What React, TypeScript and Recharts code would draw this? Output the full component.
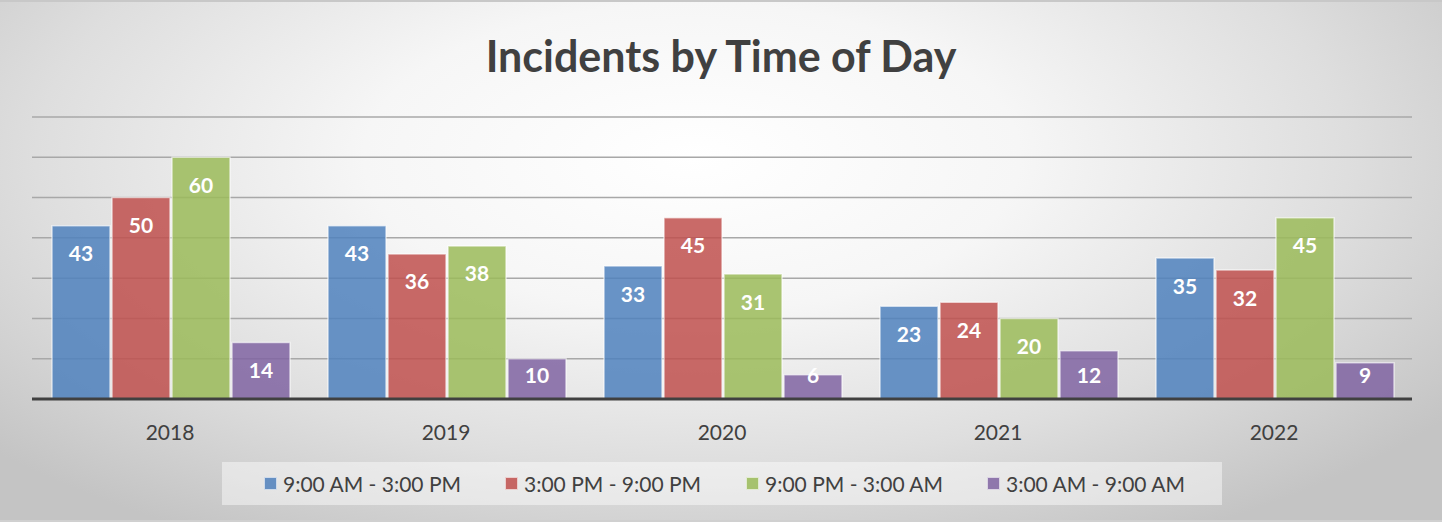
import React from 'react';
import { BarChart, Bar, XAxis, YAxis, CartesianGrid, LabelList, Legend } from 'recharts';

const years = ['2018', '2019', '2020', '2021', '2022'];
const morning = [43, 43, 33, 23, 35];
const afternoon = [50, 36, 45, 24, 32];
const night = [60, 38, 31, 20, 45];
const earlyMorning = [14, 10, 6, 12, 9];

const seriesNames = ['9:00 AM - 3:00 PM', '3:00 PM - 9:00 PM', '9:00 PM - 3:00 AM', '3:00 AM - 9:00 AM'];
const seriesKeys = ['morning', 'afternoon', 'night', 'earlyMorning'];
const colors = ['#4F81BD', '#C0504D', '#9BBB59', '#8064A2'];
const yTicks = [0, 10, 20, 30, 40, 50, 60, 70];

const data = years.map((year, i) => ({
  year,
  morning: morning[i],
  afternoon: afternoon[i],
  night: night[i],
  earlyMorning: earlyMorning[i],
}));

const FONT = 'Lato, "Open Sans", sans-serif';

const renderValueLabel = (props: any) => {
  const { x, y, width, height, value } = props;
  const cy = Math.min(y + 27, y + height - 25);
  return (
    <text
      x={x + width / 2}
      y={cy}
      textAnchor="middle"
      dominantBaseline="central"
      fill="#ffffff"
      fontSize={21}
      fontWeight={700}
      fontFamily={FONT}
    >
      {value}
    </text>
  );
};

const renderLegend = () => (
  <div
    style={{
      width: 1000,
      height: 43,
      background: 'rgba(255,255,255,0.45)',
      position: 'relative',
      fontFamily: FONT,
      fontSize: 21,
      color: '#404040',
    }}
  >
    {seriesNames.map((name, i) => (
      <div
        key={name}
        style={{ position: 'absolute', left: 42 + i * 241, top: 0, height: 43, display: 'flex', alignItems: 'center' }}
      >
        <span
          style={{
            display: 'inline-block',
            width: 11,
            height: 11,
            background: colors[i],
            opacity: 0.85,
            border: '1px solid rgba(255,255,255,0.7)',
            marginRight: 6,
          }}
        />
        <span>{name}</span>
      </div>
    ))}
  </div>
);

export default function App() {
  return (
    <div
      style={{
        position: 'absolute',
        left: 0,
        top: 0,
        width: 1442,
        height: 522,
        background: 'radial-gradient(ellipse 65% 85% at 48% 30%, #ffffff 0%, #f6f6f6 35%, #dedede 70%, #c4c4c4 100%)',
        borderTop: '2px solid #c8c8c8',
        borderBottom: '2px solid #d0d0d0',
        boxSizing: 'border-box',
        overflow: 'hidden',
      }}
    >
      <div
        style={{
          position: 'absolute',
          left: 0,
          top: 28,
          width: 1442,
          textAlign: 'center',
          fontFamily: FONT,
          fontWeight: 700,
          fontSize: 43,
          color: '#404040',
        }}
      >
        Incidents by Time of Day
      </div>
      <div style={{ position: 'absolute', left: 0, top: -2 }}>
        <BarChart
          width={1442}
          height={522}
          data={data}
          margin={{ top: 117, right: 30, left: 32, bottom: 40 }}
          barCategoryGap={20}
          barGap={2}
        >
          <CartesianGrid vertical={false} stroke="#a8a8a8" strokeWidth={1.5} />
          <YAxis hide domain={[0, 70]} ticks={yTicks} width={0} />
          <XAxis
            dataKey="year"
            height={40}
            axisLine={{ stroke: '#404040', strokeWidth: 3 }}
            tickLine={false}
            tickSize={0}
            tickMargin={26}
            tick={{ fill: '#404040', fontSize: 21, fontFamily: FONT }}
          />
          <Legend
            content={renderLegend}
            wrapperStyle={{ position: 'absolute', left: 222, top: 462, width: 1000, height: 43 }}
          />
          {seriesKeys.map((key, i) => (
            <Bar
              key={key}
              dataKey={key}
              name={seriesNames[i]}
              fill={colors[i]}
              fillOpacity={0.85}
              stroke="rgba(255,255,255,0.6)"
              strokeWidth={1.5}
              isAnimationActive={false}
            >
              <LabelList dataKey={key} content={renderValueLabel} />
            </Bar>
          ))}
        </BarChart>
      </div>
    </div>
  );
}
